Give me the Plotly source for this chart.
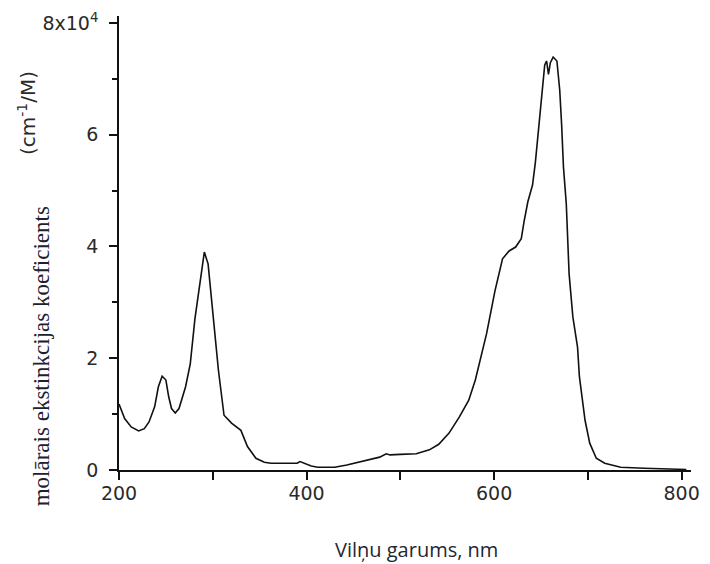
import plotly.graph_objects as go

# Wavelength (nm)
wavelength = [200, 206, 213, 221, 227, 232, 238, 242, 246, 250, 253, 256, 260, 264,
              271, 276, 281, 287, 291, 295, 300, 306, 312, 320, 330, 337, 346, 355,
              362, 375, 390, 393, 397, 405, 412, 420, 430, 443, 461, 478, 485, 489,
              500, 517, 531, 541, 552, 563, 573, 580, 592, 601, 609, 616, 623, 629,
              632, 636, 641, 644, 648, 651, 654, 656, 658, 660, 663, 667, 670, 672,
              674, 677, 680, 684, 689, 691, 697, 702, 709, 718, 735, 760, 780, 798, 805]
# Molar extinction coefficient (x10^4 cm^-1/M)
epsilon = [1.18, 0.92, 0.77, 0.70, 0.74, 0.86, 1.13, 1.49, 1.68, 1.61, 1.31, 1.10, 1.02, 1.10,
           1.49, 1.90, 2.71, 3.45, 3.90, 3.69, 2.80, 1.79, 0.98, 0.84, 0.71, 0.42, 0.21, 0.14,
           0.12, 0.12, 0.12, 0.15, 0.12, 0.07, 0.05, 0.05, 0.05, 0.09, 0.16, 0.23, 0.29, 0.27,
           0.28, 0.29, 0.36, 0.46, 0.66, 0.95, 1.25, 1.61, 2.44, 3.21, 3.78, 3.92, 3.99, 4.14,
           4.45, 4.80, 5.10, 5.50, 6.20, 6.73, 7.25, 7.32, 7.08, 7.29, 7.39, 7.32, 6.80, 6.19,
           5.42, 4.76, 3.51, 2.74, 2.20, 1.67, 0.89, 0.48, 0.21, 0.12, 0.05, 0.03, 0.02, 0.01, 0.01]

x_tickvals = [200, 400, 600, 800]
x_ticktext = ["200", "400", "600", "800"]
x_minor = [300, 500, 700]
y_tickvals = [0, 2, 4, 6, 8]
y_ticktext = ["0", "2", "4", "6", "8x10<sup>4</sup>"]
y_minor = [1, 3, 5, 7]

x_title = "Vilņu garums, nm"
y_title = "molārais ekstinkcijas koeficients"
y_unit = "(cm<sup>-1</sup>/M)"

tick_font = dict(family="DejaVu Sans, sans-serif", size=19, color="#2a2a2a")

fig = go.Figure()
fig.add_trace(go.Scatter(x=wavelength, y=epsilon, mode="lines",
                         line=dict(color="#111111", width=1.6),
                         showlegend=False))

fig.update_layout(
    width=710, height=564,
    margin=dict(l=119, r=10, t=15, b=94),
    paper_bgcolor="white", plot_bgcolor="white",
    xaxis=dict(range=[200, 810], tickmode="array", tickvals=x_tickvals, ticktext=x_ticktext,
               showgrid=False, zeroline=False, showline=True, linecolor="#111111", linewidth=1.6,
               ticks="outside", ticklen=8, tickwidth=1.6, tickcolor="#111111",
               tickfont=tick_font, ticklabelstandoff=-3,
               minor=dict(tickmode="array", tickvals=x_minor, ticks="outside", ticklen=8,
                          tickwidth=1.6, tickcolor="#111111")),
    yaxis=dict(range=[0, 8.125], tickmode="array", tickvals=y_tickvals, ticktext=y_ticktext,
               showgrid=False, zeroline=False, showline=True, linecolor="#111111", linewidth=1.6,
               ticks="outside", ticklen=8, tickwidth=1.6, tickcolor="#111111",
               tickfont=tick_font, ticklabelstandoff=7,
               minor=dict(tickmode="array", tickvals=y_minor, ticks="outside", ticklen=5,
                          tickwidth=1.6, tickcolor="#111111")),
    annotations=[
        dict(text=x_title, xref="paper", yref="paper", x=0.52, y=-0.176,
             xanchor="center", yanchor="middle", showarrow=False,
             font=dict(family="Open Sans, sans-serif", size=20, color="#1f2633")),
        dict(text=y_title, xref="paper", yref="paper", x=-0.135, y=0.25,
             xanchor="center", yanchor="middle", showarrow=False, textangle=-90,
             font=dict(family="Liberation Serif, Times New Roman, serif", size=23, color="#1c2030")),
        dict(text=y_unit, xref="paper", yref="paper", x=-0.162, y=0.787,
             xanchor="center", yanchor="middle", showarrow=False, textangle=-90,
             font=dict(family="DejaVu Sans, sans-serif", size=20, color="#2a2a2a")),
    ],
)

fig.write_html("out.html")
